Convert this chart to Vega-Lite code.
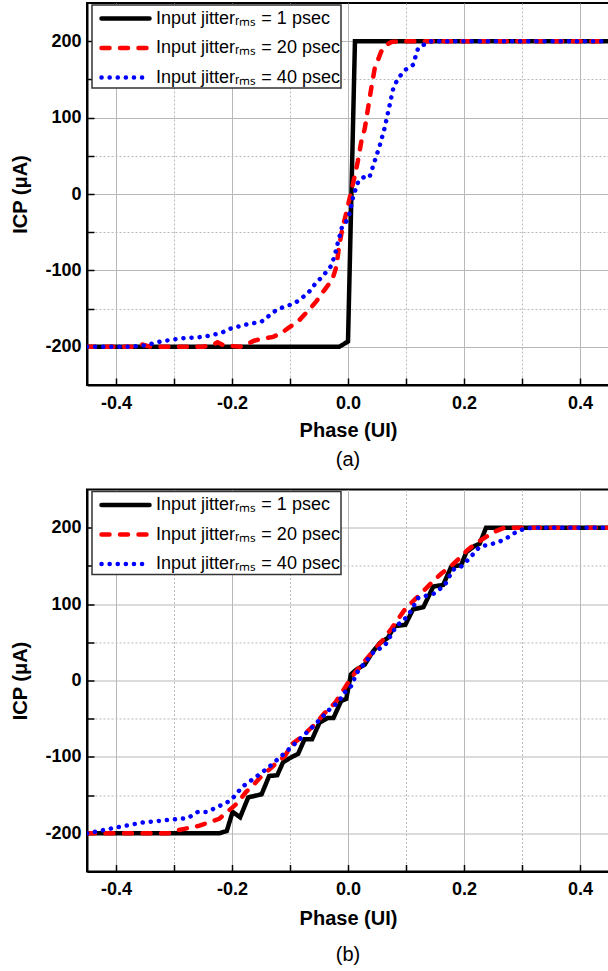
{
  "$schema": "https://vega.github.io/schema/vega-lite/v6.json",
  "padding": {"left": 9, "top": 2, "right": 0, "bottom": 0},
  "spacing": 17.5,
  "config": {
    "font": "Liberation Sans",
    "view": {"stroke": "black", "strokeWidth": 2},
    "axis": {
      "labelFont": "Liberation Sans", "labelFontSize": 18, "labelFontWeight": "bold", "labelColor": "black",
      "titleFont": "Liberation Sans", "titleFontSize": 20, "titleFontWeight": "bold", "titleColor": "black",
      "domainColor": "black", "domainWidth": 2, "tickColor": "black", "tickWidth": 1.5, "tickSize": -7,
      "gridColor": "#b8b8b8", "gridWidth": 1, "labelFlush": false
    },
    "legend": {
      "orient": "none", "legendX": 5, "legendY": 2, "title": null,
      "strokeColor": "#333333", "strokeWidth": 1.5, "fillColor": "white",
      "padding": 1, "rowPadding": 7.5,
      "symbolType": "M-0.4,0H4.4", "symbolSize": 400, "symbolStrokeWidth": 4.5,
      "labelFont": "Liberation Sans", "labelFontSize": 18, "labelColor": "black", "labelOffset": 38, "labelLimit": 300
    },
    "title": {"font": "Liberation Sans", "fontSize": 20, "fontWeight": "normal", "color": "black", "orient": "bottom", "offset": 10}
  },
  "datasets": {
    "a": [
      {"s": "1 psec", "x": -0.45, "y": -200}, {"s": "1 psec", "x": -0.015, "y": -200}, {"s": "1 psec", "x": 0.0, "y": -193}, {"s": "1 psec", "x": 0.012, "y": 200}, {"s": "1 psec", "x": 0.45, "y": 200},
      {"s": "20 psec", "x": -0.45, "y": -200}, {"s": "20 psec", "x": -0.37, "y": -200}, {"s": "20 psec", "x": -0.355, "y": -197}, {"s": "20 psec", "x": -0.34, "y": -200}, {"s": "20 psec", "x": -0.25, "y": -200}, {"s": "20 psec", "x": -0.232, "y": -197}, {"s": "20 psec", "x": -0.225, "y": -194}, {"s": "20 psec", "x": -0.215, "y": -198}, {"s": "20 psec", "x": -0.186, "y": -200}, {"s": "20 psec", "x": -0.172, "y": -196}, {"s": "20 psec", "x": -0.162, "y": -192}, {"s": "20 psec", "x": -0.145, "y": -189}, {"s": "20 psec", "x": -0.129, "y": -187}, {"s": "20 psec", "x": -0.115, "y": -182}, {"s": "20 psec", "x": -0.102, "y": -175}, {"s": "20 psec", "x": -0.085, "y": -166}, {"s": "20 psec", "x": -0.069, "y": -153}, {"s": "20 psec", "x": -0.055, "y": -141}, {"s": "20 psec", "x": -0.042, "y": -127}, {"s": "20 psec", "x": -0.027, "y": -112}, {"s": "20 psec", "x": -0.02, "y": -95}, {"s": "20 psec", "x": -0.016, "y": -72}, {"s": "20 psec", "x": -0.01, "y": -46}, {"s": "20 psec", "x": -0.003, "y": -25}, {"s": "20 psec", "x": 0.003, "y": -5}, {"s": "20 psec", "x": 0.012, "y": 25}, {"s": "20 psec", "x": 0.017, "y": 43}, {"s": "20 psec", "x": 0.023, "y": 69}, {"s": "20 psec", "x": 0.029, "y": 86}, {"s": "20 psec", "x": 0.04, "y": 138}, {"s": "20 psec", "x": 0.046, "y": 164}, {"s": "20 psec", "x": 0.057, "y": 186}, {"s": "20 psec", "x": 0.066, "y": 195}, {"s": "20 psec", "x": 0.075, "y": 199}, {"s": "20 psec", "x": 0.092, "y": 200}, {"s": "20 psec", "x": 0.45, "y": 200},
      {"s": "40 psec", "x": -0.45, "y": -200}, {"s": "40 psec", "x": -0.376, "y": -200}, {"s": "40 psec", "x": -0.349, "y": -198}, {"s": "40 psec", "x": -0.323, "y": -193}, {"s": "40 psec", "x": -0.289, "y": -189}, {"s": "40 psec", "x": -0.249, "y": -187}, {"s": "40 psec", "x": -0.219, "y": -182}, {"s": "40 psec", "x": -0.202, "y": -176}, {"s": "40 psec", "x": -0.176, "y": -171}, {"s": "40 psec", "x": -0.149, "y": -167}, {"s": "40 psec", "x": -0.122, "y": -151}, {"s": "40 psec", "x": -0.092, "y": -143}, {"s": "40 psec", "x": -0.069, "y": -130}, {"s": "40 psec", "x": -0.057, "y": -118}, {"s": "40 psec", "x": -0.043, "y": -107}, {"s": "40 psec", "x": -0.03, "y": -95}, {"s": "40 psec", "x": -0.024, "y": -83}, {"s": "40 psec", "x": -0.02, "y": -72}, {"s": "40 psec", "x": -0.017, "y": -62}, {"s": "40 psec", "x": -0.013, "y": -51}, {"s": "40 psec", "x": -0.01, "y": -42}, {"s": "40 psec", "x": -0.003, "y": -36}, {"s": "40 psec", "x": 0.003, "y": -25}, {"s": "40 psec", "x": 0.009, "y": -3}, {"s": "40 psec", "x": 0.018, "y": 17}, {"s": "40 psec", "x": 0.029, "y": 23}, {"s": "40 psec", "x": 0.037, "y": 22}, {"s": "40 psec", "x": 0.046, "y": 43}, {"s": "40 psec", "x": 0.055, "y": 64}, {"s": "40 psec", "x": 0.063, "y": 86}, {"s": "40 psec", "x": 0.072, "y": 117}, {"s": "40 psec", "x": 0.078, "y": 138}, {"s": "40 psec", "x": 0.086, "y": 151}, {"s": "40 psec", "x": 0.098, "y": 162}, {"s": "40 psec", "x": 0.112, "y": 169}, {"s": "40 psec", "x": 0.121, "y": 191}, {"s": "40 psec", "x": 0.132, "y": 196}, {"s": "40 psec", "x": 0.144, "y": 200}, {"s": "40 psec", "x": 0.45, "y": 200}
    ],
    "b": [
      {"s": "1 psec", "x": -0.45, "y": -200}, {"s": "1 psec", "x": -0.222, "y": -200}, {"s": "1 psec", "x": -0.209, "y": -197}, {"s": "1 psec", "x": -0.199, "y": -172}, {"s": "1 psec", "x": -0.186, "y": -179}, {"s": "1 psec", "x": -0.172, "y": -153}, {"s": "1 psec", "x": -0.149, "y": -149}, {"s": "1 psec", "x": -0.136, "y": -125}, {"s": "1 psec", "x": -0.122, "y": -124}, {"s": "1 psec", "x": -0.112, "y": -107}, {"s": "1 psec", "x": -0.099, "y": -101}, {"s": "1 psec", "x": -0.086, "y": -96}, {"s": "1 psec", "x": -0.075, "y": -77}, {"s": "1 psec", "x": -0.062, "y": -77}, {"s": "1 psec", "x": -0.049, "y": -55}, {"s": "1 psec", "x": -0.035, "y": -49}, {"s": "1 psec", "x": -0.025, "y": -49}, {"s": "1 psec", "x": -0.012, "y": -27}, {"s": "1 psec", "x": -0.003, "y": -24}, {"s": "1 psec", "x": 0.005, "y": 8}, {"s": "1 psec", "x": 0.014, "y": 14}, {"s": "1 psec", "x": 0.029, "y": 21}, {"s": "1 psec", "x": 0.043, "y": 38}, {"s": "1 psec", "x": 0.055, "y": 49}, {"s": "1 psec", "x": 0.069, "y": 56}, {"s": "1 psec", "x": 0.08, "y": 71}, {"s": "1 psec", "x": 0.099, "y": 73}, {"s": "1 psec", "x": 0.112, "y": 93}, {"s": "1 psec", "x": 0.13, "y": 96}, {"s": "1 psec", "x": 0.147, "y": 123}, {"s": "1 psec", "x": 0.164, "y": 125}, {"s": "1 psec", "x": 0.178, "y": 149}, {"s": "1 psec", "x": 0.195, "y": 151}, {"s": "1 psec", "x": 0.204, "y": 168}, {"s": "1 psec", "x": 0.218, "y": 176}, {"s": "1 psec", "x": 0.227, "y": 179}, {"s": "1 psec", "x": 0.238, "y": 200}, {"s": "1 psec", "x": 0.45, "y": 200},
      {"s": "20 psec", "x": -0.45, "y": -200}, {"s": "20 psec", "x": -0.31, "y": -200}, {"s": "20 psec", "x": -0.293, "y": -196}, {"s": "20 psec", "x": -0.256, "y": -190}, {"s": "20 psec", "x": -0.222, "y": -181}, {"s": "20 psec", "x": -0.202, "y": -168}, {"s": "20 psec", "x": -0.19, "y": -160}, {"s": "20 psec", "x": -0.176, "y": -146}, {"s": "20 psec", "x": -0.161, "y": -135}, {"s": "20 psec", "x": -0.149, "y": -125}, {"s": "20 psec", "x": -0.135, "y": -116}, {"s": "20 psec", "x": -0.122, "y": -107}, {"s": "20 psec", "x": -0.109, "y": -99}, {"s": "20 psec", "x": -0.096, "y": -83}, {"s": "20 psec", "x": -0.082, "y": -75}, {"s": "20 psec", "x": -0.069, "y": -66}, {"s": "20 psec", "x": -0.055, "y": -56}, {"s": "20 psec", "x": -0.042, "y": -44}, {"s": "20 psec", "x": -0.022, "y": -29}, {"s": "20 psec", "x": -0.01, "y": -15}, {"s": "20 psec", "x": 0.0, "y": -3}, {"s": "20 psec", "x": 0.012, "y": 10}, {"s": "20 psec", "x": 0.026, "y": 23}, {"s": "20 psec", "x": 0.043, "y": 38}, {"s": "20 psec", "x": 0.06, "y": 53}, {"s": "20 psec", "x": 0.075, "y": 68}, {"s": "20 psec", "x": 0.086, "y": 80}, {"s": "20 psec", "x": 0.1, "y": 95}, {"s": "20 psec", "x": 0.118, "y": 108}, {"s": "20 psec", "x": 0.135, "y": 121}, {"s": "20 psec", "x": 0.148, "y": 131}, {"s": "20 psec", "x": 0.161, "y": 140}, {"s": "20 psec", "x": 0.178, "y": 150}, {"s": "20 psec", "x": 0.195, "y": 162}, {"s": "20 psec", "x": 0.205, "y": 170}, {"s": "20 psec", "x": 0.218, "y": 178}, {"s": "20 psec", "x": 0.23, "y": 184}, {"s": "20 psec", "x": 0.253, "y": 195}, {"s": "20 psec", "x": 0.27, "y": 200}, {"s": "20 psec", "x": 0.45, "y": 200},
      {"s": "40 psec", "x": -0.45, "y": -200}, {"s": "40 psec", "x": -0.43, "y": -197}, {"s": "40 psec", "x": -0.41, "y": -194}, {"s": "40 psec", "x": -0.39, "y": -191}, {"s": "40 psec", "x": -0.356, "y": -186}, {"s": "40 psec", "x": -0.316, "y": -183}, {"s": "40 psec", "x": -0.276, "y": -180}, {"s": "40 psec", "x": -0.259, "y": -172}, {"s": "40 psec", "x": -0.243, "y": -172}, {"s": "40 psec", "x": -0.229, "y": -167}, {"s": "40 psec", "x": -0.202, "y": -157}, {"s": "40 psec", "x": -0.182, "y": -139}, {"s": "40 psec", "x": -0.162, "y": -128}, {"s": "40 psec", "x": -0.139, "y": -115}, {"s": "40 psec", "x": -0.109, "y": -95}, {"s": "40 psec", "x": -0.082, "y": -76}, {"s": "40 psec", "x": -0.056, "y": -57}, {"s": "40 psec", "x": -0.032, "y": -38}, {"s": "40 psec", "x": -0.015, "y": -27}, {"s": "40 psec", "x": -0.009, "y": -18}, {"s": "40 psec", "x": 0.006, "y": -7}, {"s": "40 psec", "x": 0.015, "y": 10}, {"s": "40 psec", "x": 0.029, "y": 23}, {"s": "40 psec", "x": 0.045, "y": 38}, {"s": "40 psec", "x": 0.063, "y": 45}, {"s": "40 psec", "x": 0.083, "y": 71}, {"s": "40 psec", "x": 0.103, "y": 84}, {"s": "40 psec", "x": 0.121, "y": 108}, {"s": "40 psec", "x": 0.149, "y": 114}, {"s": "40 psec", "x": 0.167, "y": 125}, {"s": "40 psec", "x": 0.181, "y": 145}, {"s": "40 psec", "x": 0.195, "y": 149}, {"s": "40 psec", "x": 0.207, "y": 158}, {"s": "40 psec", "x": 0.227, "y": 175}, {"s": "40 psec", "x": 0.244, "y": 178}, {"s": "40 psec", "x": 0.259, "y": 181}, {"s": "40 psec", "x": 0.273, "y": 186}, {"s": "40 psec", "x": 0.287, "y": 193}, {"s": "40 psec", "x": 0.302, "y": 198}, {"s": "40 psec", "x": 0.316, "y": 200}, {"s": "40 psec", "x": 0.45, "y": 200}
    ]
  },
  "vconcat": [
    {
      "width": 522, "height": 382,
      "data": {"name": "a"},
      "title": {"text": "(a)"},
      "mark": {"type": "line", "strokeWidth": 4.5, "strokeCap": "round", "clip": true},
      "encoding": {
        "x": {"field": "x", "type": "quantitative", "title": "Phase (UI)",
          "scale": {"domain": [-0.45, 0.45], "nice": false, "zero": false},
          "axis": {"values": [-0.4, -0.3, -0.2, -0.1, 0, 0.1, 0.2, 0.3, 0.4], "labelPadding": 16, "titlePadding": 8,
            "labelExpr": "round(datum.value*10) % 2 == 0 ? (datum.value < -0.001 ? '-' : '') + format(abs(datum.value), '.1f') : ''",
            "gridDash": {"condition": {"test": "round(datum.value*10) % 2 != 0", "value": [2, 2]}, "value": []}}},
        "y": {"field": "y", "type": "quantitative", "title": "ICP (μA)",
          "scale": {"domain": [-250, 250], "nice": false},
          "axis": {"values": [-200, -150, -100, -50, 0, 50, 100, 150, 200], "labelPadding": 13, "titlePadding": 14,
            "labelExpr": "datum.value % 100 == 0 ? (datum.value < 0 ? '-' : '') + abs(datum.value) : ''",
            "gridDash": {"condition": {"test": "datum.value % 100 != 0", "value": [2, 2]}, "value": []}}},
        "color": {"field": "s", "type": "nominal", "sort": null,
          "scale": {"domain": ["1 psec", "20 psec", "40 psec"], "range": ["#000000", "#ff0000", "#0000ff"]},
          "legend": {"labelExpr": "'Input jitterᵣₘₛ = ' + datum.label", "encoding": {"symbols": {"strokeCap": {"value": "round"}}}}},
        "strokeDash": {"field": "s", "type": "nominal", "sort": null,
          "scale": {"domain": ["1 psec", "20 psec", "40 psec"], "range": [[1, 0], [8, 10.5], [0.1, 8]]},
          "legend": {"labelExpr": "'Input jitterᵣₘₛ = ' + datum.label", "encoding": {"symbols": {"strokeCap": {"value": "round"}}}}}
      }
    },
    {
      "width": 522, "height": 382,
      "data": {"name": "b"},
      "title": {"text": "(b)", "offset": 16},
      "mark": {"type": "line", "strokeWidth": 4.5, "strokeCap": "round", "clip": true},
      "encoding": {
        "x": {"field": "x", "type": "quantitative", "title": "Phase (UI)",
          "scale": {"domain": [-0.45, 0.45], "nice": false, "zero": false},
          "axis": {"values": [-0.4, -0.3, -0.2, -0.1, 0, 0.1, 0.2, 0.3, 0.4], "labelPadding": 16, "titlePadding": 10,
            "labelExpr": "round(datum.value*10) % 2 == 0 ? (datum.value < -0.001 ? '-' : '') + format(abs(datum.value), '.1f') : ''",
            "gridDash": {"condition": {"test": "round(datum.value*10) % 2 != 0", "value": [2, 2]}, "value": []}}},
        "y": {"field": "y", "type": "quantitative", "title": "ICP (μA)",
          "scale": {"domain": [-250, 250], "nice": false},
          "axis": {"values": [-200, -150, -100, -50, 0, 50, 100, 150, 200], "labelPadding": 13, "titlePadding": 14,
            "labelExpr": "datum.value % 100 == 0 ? (datum.value < 0 ? '-' : '') + abs(datum.value) : ''",
            "gridDash": {"condition": {"test": "datum.value % 100 != 0", "value": [2, 2]}, "value": []}}},
        "color": {"field": "s", "type": "nominal", "sort": null,
          "scale": {"domain": ["1 psec", "20 psec", "40 psec"], "range": ["#000000", "#ff0000", "#0000ff"]},
          "legend": {"labelExpr": "'Input jitterᵣₘₛ = ' + datum.label", "encoding": {"symbols": {"strokeCap": {"value": "round"}}}}},
        "strokeDash": {"field": "s", "type": "nominal", "sort": null,
          "scale": {"domain": ["1 psec", "20 psec", "40 psec"], "range": [[1, 0], [8, 10.5], [0.1, 8]]},
          "legend": {"labelExpr": "'Input jitterᵣₘₛ = ' + datum.label", "encoding": {"symbols": {"strokeCap": {"value": "round"}}}}}
      }
    }
  ],
  "resolve": {"scale": {"color": "independent", "strokeDash": "independent"}, "legend": {"color": "independent", "strokeDash": "independent"}}
}
